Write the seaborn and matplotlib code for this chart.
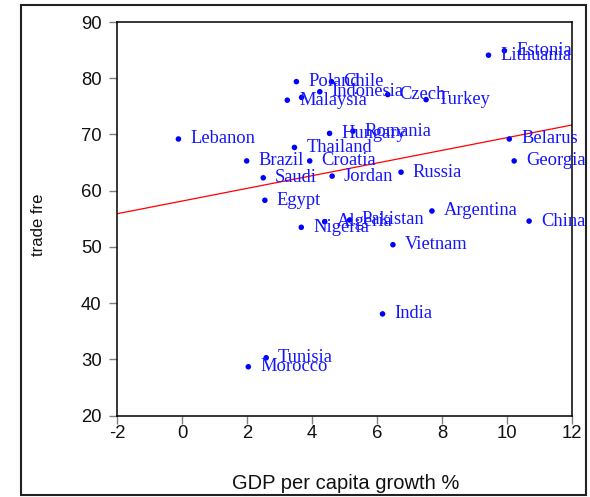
import numpy as np
import pandas as pd
import matplotlib
matplotlib.use("Agg")
import matplotlib.pyplot as plt
from matplotlib.patches import Rectangle
import seaborn as sns

# Country observations: GDP per capita growth (%) vs. trade freedom score
countries = [
    "Estonia", "Lithuania", "Poland", "Chile", "Indonesia", "", "Malaysia",
    "Czech", "Turkey", "Hungary", "Romania", "Thailand", "Lebanon", "Brazil",
    "Croatia", "Saudi", "Egypt", "Jordan", "Russia", "Algeria", "Pakistan",
    "Nigeria", "Vietnam", "Argentina", "China", "Belarus", "Georgia", "India",
    "Tunisia", "Morocco",
]
gdp_growth = [
    9.92, 9.43, 3.52, 4.60, 4.24, 3.68, 3.24,
    6.33, 7.51, 4.54, 5.26, 3.46, -0.11, 1.99,
    3.93, 2.50, 2.55, 4.62, 6.74, 4.39, 5.16,
    3.67, 6.49, 7.69, 10.68, 10.07, 10.22, 6.17,
    2.59, 2.04,
]
trade_free = [
    84.9, 84.1, 79.4, 79.4, 77.6, 76.6, 76.1,
    77.1, 76.2, 70.2, 70.6, 67.7, 69.2, 65.3,
    65.3, 62.3, 58.3, 62.6, 63.3, 54.5, 54.8,
    53.5, 50.4, 56.4, 54.6, 69.2, 65.3, 38.1,
    30.3, 28.7,
]

x_ticks = [-2, 0, 2, 4, 6, 8, 10, 12]
y_ticks = [20, 30, 40, 50, 60, 70, 80, 90]

sns.set_theme(style="white")
plt.rcParams["font.family"] = ["Liberation Sans", "DejaVu Sans"]

df = pd.DataFrame({"country": countries, "gdp": gdp_growth, "trade": trade_free})

fig = plt.figure(figsize=(5.9, 4.97), dpi=100)
ax = fig.add_axes([0.1983, 0.1636, 0.7712, 0.7921])
ax.set_xlim(-2, 12)
ax.set_ylim(20, 90)

# least-squares fit line across the full horizontal range
sns.regplot(data=df, x="gdp", y="trade", ci=None, truncate=False, scatter=False,
            line_kws=dict(color="red", lw=0.9), ax=ax)
sns.scatterplot(data=df, x="gdp", y="trade", color="#0000FF", s=16,
                edgecolor="none", ax=ax, zorder=3)

for name, gx, ty in zip(countries, gdp_growth, trade_free):
    if name:
        ax.annotate(name, (gx, ty), xytext=(8.5, 0), textcoords="offset points",
                    ha="left", va="center", color="#1414FF",
                    fontfamily="Liberation Serif", fontsize=13.3,
                    annotation_clip=False)

ax.set_xlim(-2, 12)
ax.set_ylim(20, 90)
ax.set_xticks(x_ticks)
ax.set_yticks(y_ticks)
ax.set_xticklabels([str(t) for t in x_ticks])
ax.set_yticklabels([str(t) for t in y_ticks])
ax.tick_params(axis="both", direction="out", length=6, width=1, color="#808080",
               labelsize=13.3, labelcolor="#111111")
ax.tick_params(axis="y", pad=5)
ax.tick_params(axis="x", pad=1)
ax.xaxis.set_ticks_position("bottom")
ax.yaxis.set_ticks_position("left")
for sp in ax.spines.values():
    sp.set_visible(True)
    sp.set_color("black")
    sp.set_linewidth(1.1)

ax.set_xlabel("GDP per capita growth %", fontsize=14.5, color="#111111")
ax.set_ylabel("trade fre", fontsize=12, color="#111111")
ax.xaxis.set_label_coords(0.503, -0.171)
ax.yaxis.set_label_coords(-0.172, 0.484)
ax.xaxis.label.set_va("center")
ax.yaxis.label.set_va("center")

# outer frame around the whole figure
fig.patches.append(Rectangle((0.0356, 0.004), 0.9576, 0.986, transform=fig.transFigure,
                             fill=False, edgecolor="#222222", linewidth=1.5))

fig.savefig("out.png", dpi=100)
